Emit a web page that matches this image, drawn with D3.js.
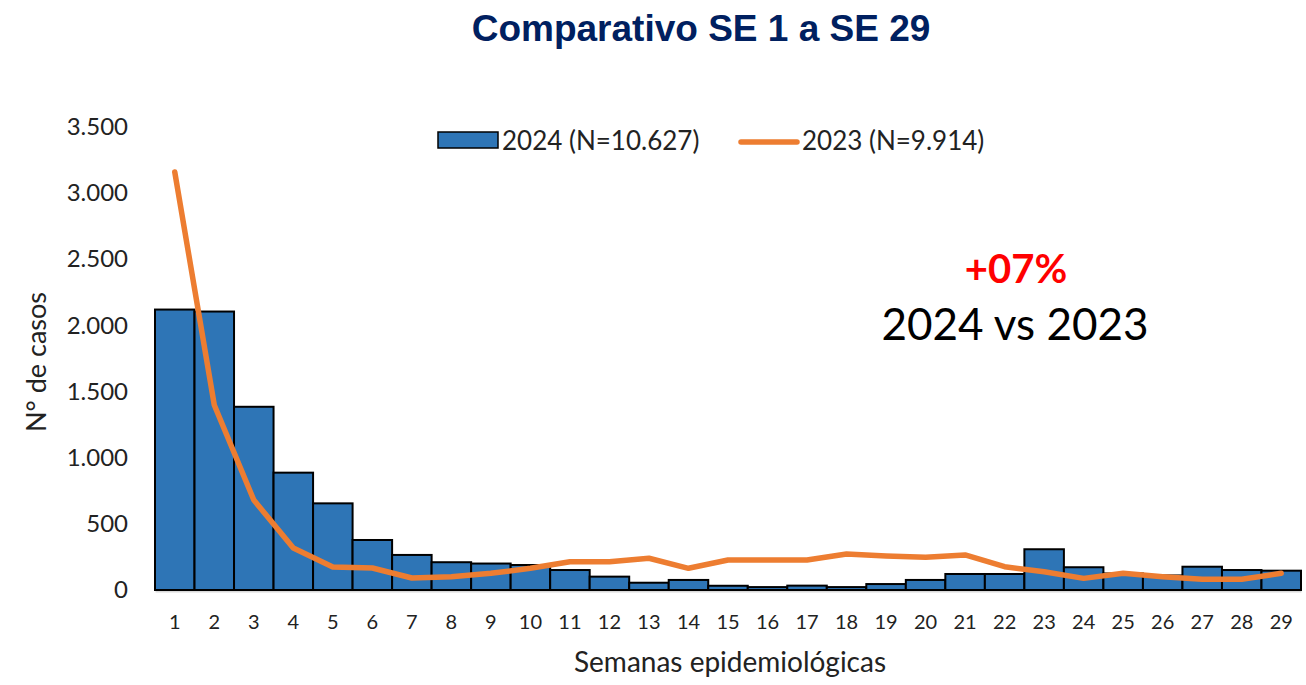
<!DOCTYPE html>
<html>
<head>
<meta charset="utf-8">
<script src="https://cdn.jsdelivr.net/npm/d3@7"></script>
<style>
  body { margin: 0; background: #fff; }
  text { font-family: Lato, "Open Sans", sans-serif; }
</style>
</head>
<body>
<script>
// semanas epidemiologicas 1..29
var weeks = d3.range(1, 30);
var cases2024 = [2120, 2105, 1385, 887, 655, 378, 265, 210, 200, 189, 151, 101, 55, 76, 32, 22, 33, 22, 45, 76, 121, 121, 308, 172, 125, 110, 176, 151, 146];
var cases2023 = [3160, 1398, 680, 317, 174, 166, 91, 101, 126, 164, 214, 214, 240, 164, 227, 227, 227, 272, 257, 247, 265, 176, 138, 88, 126, 101, 81, 81, 126];
var yTicks = [0, 500, 1000, 1500, 2000, 2500, 3000, 3500];

var W = 1306, H = 685;
var svg = d3.select("body").append("svg")
  .attr("width", W)
  .attr("height", H);

var x = d3.scaleBand().domain(weeks).range([155, 1301]).padding(0);
var y = d3.scaleLinear().domain([0, 3500]).range([590, 127]);

// title
svg.append("text")
  .attr("x", 701).attr("y", 41)
  .attr("text-anchor", "middle")
  .style("font-family", "Arial, 'Liberation Sans', sans-serif")
  .style("font-weight", "bold")
  .style("font-size", "37px")
  .attr("fill", "#002060")
  .text("Comparativo SE 1 a SE 29");

// y axis (labels only)
var fmt = function (d) { return d3.format(",")(d).replace(/,/g, "."); };
var yAxis = svg.append("g")
  .attr("transform", "translate(128,0)")
  .call(d3.axisLeft(y).tickValues(yTicks).tickFormat(fmt).tickSize(0).tickPadding(0));
yAxis.select(".domain").remove();
yAxis.selectAll("text").style("font-size", "24px").attr("fill", "#222");

// x axis
var xAxis = svg.append("g")
  .attr("transform", "translate(0,591)")
  .call(d3.axisBottom(x).tickSize(0).tickPadding(24));
xAxis.select(".domain").attr("stroke", "#d9d9d9").attr("stroke-width", 2);
xAxis.selectAll("text").style("font-size", "20px").attr("fill", "#222");

// bars 2024
svg.selectAll("rect.bar")
  .data(cases2024)
  .enter()
  .append("rect")
  .attr("class", "bar")
  .attr("x", function (d, i) { return x(weeks[i]); })
  .attr("y", function (d) { return y(d); })
  .attr("width", x.bandwidth())
  .attr("height", function (d) { return y(0) - y(d); })
  .attr("fill", "#2E75B6")
  .attr("stroke", "#000")
  .attr("stroke-width", 2);

// line 2023
var line = d3.line()
  .x(function (d, i) { return x(weeks[i]) + x.bandwidth() / 2; })
  .y(function (d) { return y(d); });

svg.append("path")
  .datum(cases2023)
  .attr("d", line)
  .attr("fill", "none")
  .attr("stroke", "#ED7D31")
  .attr("stroke-width", 5.5)
  .attr("stroke-linejoin", "round")
  .attr("stroke-linecap", "round");

// axis titles
svg.append("text")
  .attr("transform", "translate(46,362) rotate(-90)")
  .attr("text-anchor", "middle")
  .style("font-size", "27px")
  .attr("fill", "#222")
  .text("N° de casos");

svg.append("text")
  .attr("x", 730).attr("y", 672)
  .attr("text-anchor", "middle")
  .style("font-size", "28px")
  .attr("fill", "#222")
  .text("Semanas epidemiológicas");

// legend
svg.append("rect")
  .attr("x", 438).attr("y", 132)
  .attr("width", 60).attr("height", 16)
  .attr("fill", "#2E75B6")
  .attr("stroke", "#000")
  .attr("stroke-width", 1.5);
svg.append("text")
  .attr("x", 502).attr("y", 150)
  .style("font-size", "26px")
  .attr("fill", "#222")
  .text("2024 (N=10.627)");

svg.append("line")
  .attr("x1", 741).attr("x2", 797)
  .attr("y1", 142).attr("y2", 142)
  .attr("stroke", "#ED7D31")
  .attr("stroke-width", 5.5)
  .attr("stroke-linecap", "round");
svg.append("text")
  .attr("x", 802).attr("y", 150)
  .style("font-size", "26px")
  .attr("fill", "#222")
  .text("2023 (N=9.914)");

// annotation
svg.append("text")
  .attr("x", 1016).attr("y", 283)
  .attr("text-anchor", "middle")
  .style("font-size", "40px")
  .style("font-weight", "bold")
  .attr("fill", "#FF0000")
  .text("+07%");

svg.append("text")
  .attr("x", 1015).attr("y", 340)
  .attr("text-anchor", "middle")
  .style("font-size", "44px")
  .attr("fill", "#000")
  .text("2024 vs 2023");
</script>
</body>
</html>
